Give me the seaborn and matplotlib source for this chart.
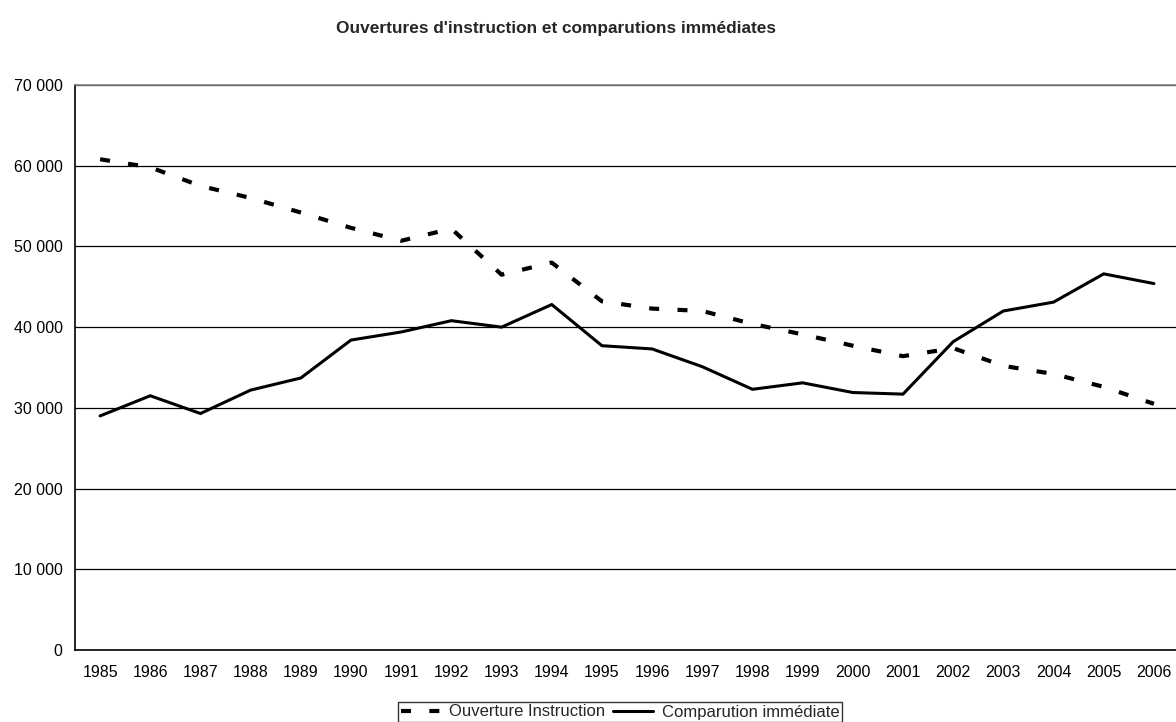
import matplotlib
matplotlib.use("Agg")
import matplotlib.pyplot as plt
import matplotlib.ticker as mticker
import seaborn as sns
import pandas as pd

years = list(range(1985, 2007))
ouverture_instruction = [60800, 59800, 57500, 56000, 54200, 52300, 50700, 52200, 46500, 48000,
                         43200, 42300, 42000, 40400, 39100, 37700, 36400, 37400, 35200, 34200,
                         32600, 30500]
comparution_immediate = [29000, 31500, 29300, 32200, 33700, 38400, 39400, 40800, 40000, 42800,
                         37700, 37300, 35100, 32300, 33100, 31900, 31700, 38200, 42000, 43100,
                         46600, 45400]
series_names = ["Ouverture Instruction", "Comparution immédiate"]
title = "Ouvertures d'instruction et comparutions immédiates"

sns.set_style("white")
plt.rcParams['font.family'] = ['Liberation Sans', 'DejaVu Sans']

df1 = pd.DataFrame({"year": years, "value": ouverture_instruction})
df2 = pd.DataFrame({"year": years, "value": comparution_immediate})

fig = plt.figure(figsize=(11.76, 7.22), dpi=100)
ax = fig.add_axes([75/1176, 1-650/722, 1104/1176, 565/722])

sns.lineplot(data=df1, x="year", y="value", ax=ax, color="black", lw=3.0,
             label=series_names[0])
sns.lineplot(data=df2, x="year", y="value", ax=ax, color="black", lw=2.2,
             label=series_names[1])
l1, l2 = ax.get_lines()[0], ax.get_lines()[1]
l1.set_dashes((2.4, 4.4))
l1.set_dash_capstyle("butt")
l2.set_solid_joinstyle("miter")

ax.set_xlim(years[0]-0.5, years[-1]+0.5)
ax.set_ylim(0, 70000)
ax.set_yticks(range(0, 70001, 10000))
ax.yaxis.set_major_formatter(mticker.FuncFormatter(lambda v, p: f"{int(v):,}".replace(",", " ")))
ax.set_xticks(years)
ax.set_xticklabels([str(y) for y in years])
ax.set_xticks([y + 0.5 for y in years[:-1]], minor=True)
ax.tick_params(axis="x", which="major", length=0, pad=11, labelsize=11.5, colors="black")
ax.tick_params(axis="x", which="minor", length=4.5, direction="in", width=1, color="black")
ax.tick_params(axis="y", length=0, pad=9, labelsize=11.5, colors="black")
ax.yaxis.grid(True, color="black", lw=0.9)
ax.set_axisbelow(True)
ax.set_xlabel("")
ax.set_ylabel("")
for s in ["left", "bottom"]:
    ax.spines[s].set_color("black")
    ax.spines[s].set_linewidth(1.2)
ax.spines["top"].set_color("#808080")
ax.spines["top"].set_linewidth(1.2)
ax.spines["right"].set_visible(False)

ax.get_legend().remove()
leg = fig.legend(handles=[l1, l2], labels=series_names, loc="upper left",
                 bbox_to_anchor=(398/1176, 1-702/722), ncol=2, frameon=True,
                 fancybox=False, edgecolor="black", fontsize=12, handlelength=2.4,
                 handletextpad=0.5, columnspacing=0.5, borderpad=0.15, borderaxespad=0)
leg.get_frame().set_linewidth(1.0)

fig.text(556/1176, 1-28/722, title, ha="center", va="center", fontsize=12.4, fontweight="bold")

fig.savefig("out.png", dpi=100, facecolor="white")
